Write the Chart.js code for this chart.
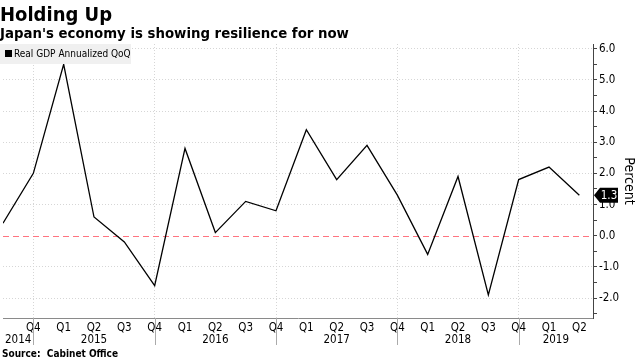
<!DOCTYPE html>
<html>
<head>
<meta charset="utf-8">
<script src="https://cdn.jsdelivr.net/npm/chart.js@4.4.0/dist/chart.umd.min.js"></script>
<style>
  html, body { margin: 0; padding: 0; background: #fff; }
  canvas { display: block; }
</style>
</head>
<body>
<canvas id="myChart" width="638" height="359"></canvas>
<script>
// quarters Q3 2014 -> Q2 2019
const quarterLabels = ["", "Q4", "Q1", "Q2", "Q3", "Q4", "Q1", "Q2", "Q3", "Q4",
  "Q1", "Q2", "Q3", "Q4", "Q1", "Q2", "Q3", "Q4", "Q1", "Q2"];
const yearLabels = ["2014", "2015", "2016", "2017", "2018", "2019"];
const gdpValues = [0.4, 2.0, 5.5, 0.6, -0.2, -1.6, 2.8, 0.1, 1.1, 0.8,
  3.4, 1.8, 2.9, 1.3, -0.6, 1.9, -1.9, 1.8, 2.2, 1.3];
const yTicks = [-2.5, -2.0, -1.5, -1.0, -0.5, 0.0, 0.5, 1.0, 1.5, 2.0, 2.5,
  3.0, 3.5, 4.0, 4.5, 5.0, 5.5, 6.0];

const font = "'DejaVu Sans Condensed', 'DejaVu Sans'";

const extras = {
  id: "extras",
  beforeDatasetsDraw(chart) {
    const { ctx, chartArea, scales: { y } } = chart;
    // zero line
    const y0 = y.getPixelForValue(0);
    ctx.save();
    ctx.strokeStyle = "#ff7480";
    ctx.lineWidth = 1;
    ctx.setLineDash([6, 4]);
    ctx.beginPath();
    ctx.moveTo(chartArea.left, Math.round(y0) + 0.5);
    ctx.lineTo(chartArea.right, Math.round(y0) + 0.5);
    ctx.stroke();
    ctx.restore();
  },
  afterDraw(chart) {
    const { ctx, chartArea, scales: { x, y } } = chart;
    ctx.save();
    // titles
    ctx.fillStyle = "#000";
    ctx.textBaseline = "alphabetic";
    ctx.textAlign = "left";
    ctx.font = "bold 20px " + font;
    ctx.fillText("Holding Up", 0, 21);
    ctx.font = "bold 14.8px " + font;
    ctx.fillText("Japan's economy is showing resilience for now", 0, 38);
    ctx.font = "bold 10px " + font;
    ctx.fillText("Source:  Cabinet Office", 2, 357);

    // legend box
    ctx.fillStyle = "#f0f0f0";
    ctx.fillRect(0, 44, 131, 20);
    ctx.fillStyle = "#000";
    ctx.fillRect(5, 50, 7, 7);
    ctx.font = "10px " + font;
    ctx.textBaseline = "middle";
    ctx.fillText("Real GDP Annualized QoQ", 14, 54);

    // year separators + labels
    const seps = [];
    quarterLabels.forEach((q, i) => { if (q === "Q4") seps.push(x.getPixelForValue(i)); });
    ctx.strokeStyle = "#aaa";
    ctx.lineWidth = 1;
    seps.forEach(px => {
      ctx.beginPath();
      ctx.moveTo(Math.round(px) + 0.5, chartArea.bottom);
      ctx.lineTo(Math.round(px) + 0.5, chartArea.bottom + 27);
      ctx.stroke();
    });
    const bounds = [chartArea.left, ...seps, chartArea.right];
    ctx.font = "11.5px " + font;
    ctx.textAlign = "center";
    yearLabels.forEach((yr, i) => {
      let cx = (bounds[i] + bounds[i + 1]) / 2;
      const w = ctx.measureText(yr).width;
      if (cx - w / 2 < 0) cx = w / 2;
      ctx.fillText(yr, cx, chartArea.bottom + 22);
    });

    // last value tag
    const last = gdpValues[gdpValues.length - 1];
    const ly = y.getPixelForValue(last);
    const tx = chartArea.right + 1;
    ctx.fillStyle = "#000";
    ctx.beginPath();
    ctx.moveTo(tx, ly);
    ctx.lineTo(tx + 6, ly - 7.5);
    ctx.lineTo(tx + 24, ly - 7.5);
    ctx.lineTo(tx + 24, ly + 7.5);
    ctx.lineTo(tx + 6, ly + 7.5);
    ctx.closePath();
    ctx.fill();
    ctx.fillStyle = "#fff";
    ctx.textAlign = "center";
    ctx.font = "11.5px " + font;
    ctx.fillText(last.toFixed(1), tx + 15, ly + 0.5);

    // axis title
    ctx.fillStyle = "#000";
    ctx.translate(629, 181);
    ctx.rotate(Math.PI / 2);
    ctx.font = "14px " + font;
    ctx.fillText("Percent", 0, 0);
    ctx.restore();
  }
};

const points = gdpValues.map((v, i) => ({ x: i, y: v }));

new Chart(document.getElementById("myChart"), {
  type: "line",
  data: {
    datasets: [{
      label: "Real GDP Annualized QoQ",
      data: points,
      borderColor: "#000",
      borderWidth: 1.3,
      pointRadius: 0,
      tension: 0,
      fill: false
    }]
  },
  options: {
    responsive: false,
    animation: false,
    devicePixelRatio: 1,
    layout: { padding: { top: 44, left: 0, right: 0, bottom: 0 } },
    plugins: { legend: { display: false }, tooltip: { enabled: false } },
    scales: {
      x: {
        type: "linear",
        min: 0,
        max: 19.45,
        afterBuildTicks: s => { s.ticks = quarterLabels.map((q, i) => ({ value: i })); },
        afterFit: s => { s.height = 41; },
        grid: {
          color: c => (quarterLabels[c.index] === "Q4" ? "#d6d6d6" : "rgba(0,0,0,0)"),
          drawTicks: false
        },
        border: { color: "#8a8a8a", dash: [1, 2] },
        ticks: {
          autoSkip: false,
          maxRotation: 0,
          padding: 3,
          color: "#000",
          font: { family: font, size: 11.5 },
          callback: v => quarterLabels[v]
        }
      },
      y: {
        position: "right",
        min: -2.64,
        max: 6.15,
        afterBuildTicks: s => { s.ticks = yTicks.map(v => ({ value: v })); },
        afterFit: s => { s.width = 45; },
        grid: {
          color: c => (c.tick && Number.isInteger(c.tick.value) && c.tick.value !== 0 ? "#d6d6d6" : "rgba(0,0,0,0)"),
          tickColor: "#444",
          tickLength: 4
        },
        border: { color: "#444", dash: [1, 2] },
        ticks: {
          autoSkip: false,
          padding: 2,
          color: "#000",
          font: { family: font, size: 11.5 },
          callback: v => (Number.isInteger(v) ? v.toFixed(1) : "")
        }
      }
    }
  },
  plugins: [extras]
});
</script>
</body>
</html>
